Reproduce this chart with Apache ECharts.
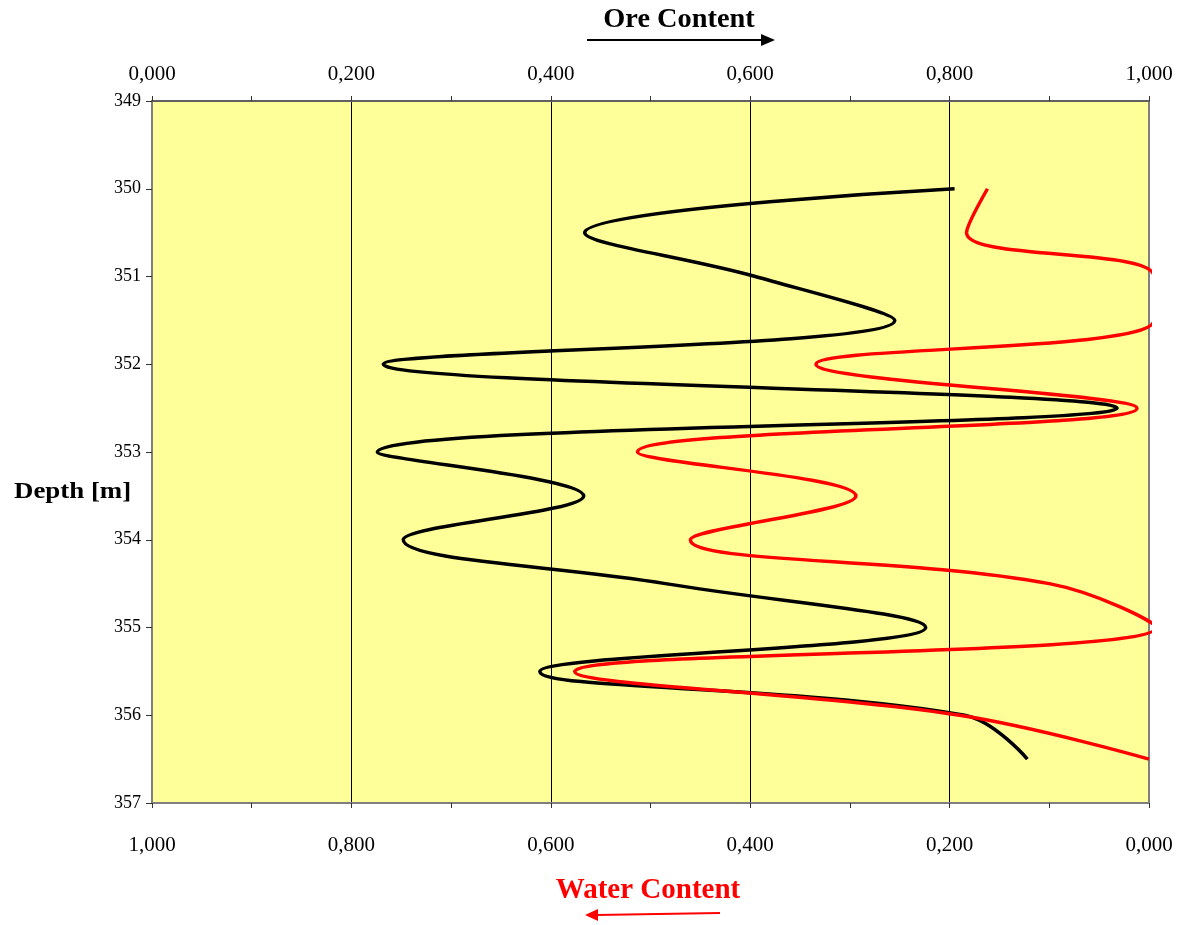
<!DOCTYPE html>
<html>
<head>
<meta charset="utf-8">
<script src="https://cdn.jsdelivr.net/npm/echarts@6/dist/echarts.min.js"></script>
<style>
html,body{margin:0;padding:0;background:#fff;}
#chart{width:1180px;height:925px;}
</style>
</head>
<body>
<div id="chart"></div>
<script>
// Depth of each sample [m]
const depths = [350, 350.5, 351, 351.5, 352, 352.5, 353, 353.5, 354, 354.5, 355, 355.5, 356, 356.5];
// Ore content (top axis, left to right)
const oreContent = [0.805, 0.434, 0.605, 0.745, 0.232, 0.968, 0.226, 0.433, 0.252, 0.515, 0.776, 0.389, 0.815, 0.878];
// Water content (bottom axis, right to left); curve runs off the right edge near 351 and 355
const waterContent = [0.162, 0.183, -0.005, -0.005, 0.334, 0.012, 0.513, 0.294, 0.460, 0.100, -0.007, 0.576, 0.190, 0.0];
// Tick labels
const oreTickLabels = ['0,000', '0,200', '0,400', '0,600', '0,800', '1,000'];
const waterTickLabels = ['0,000', '0,200', '0,400', '0,600', '0,800', '1,000'];
const depthTickLabels = ['349', '350', '351', '352', '353', '354', '355', '356', '357'];

const serif = "'Liberation Serif', 'Times New Roman', serif";

const oreData = depths.map((d, i) => [oreContent[i], d]);
const waterData = depths.map((d, i) => [waterContent[i], d]);

const chart = echarts.init(document.getElementById('chart'));
const axisGray = '#7f7f7f';
const option = {
  animation: false,
  backgroundColor: '#ffffff',
  grid: {
    left: 152, right: 31, top: 101, bottom: 122,
    show: true, backgroundColor: '#FFFF99', borderColor: axisGray, borderWidth: 2
  },
  xAxis: [
    {
      type: 'value', position: 'top', min: 0, max: 1, interval: 0.2,
      axisLine: { show: true, lineStyle: { color: '#606060', width: 2 } },
      axisTick: { show: true, inside: false, length: 5, lineStyle: { color: '#333' } },
      minorTick: { show: true, splitNumber: 2, length: 5, lineStyle: { color: '#333' } },
      splitLine: { show: true, lineStyle: { color: [axisGray, '#000', '#000', '#000', '#000', axisGray], width: 1 } },
      axisLabel: {
        margin: 16, fontFamily: serif, fontSize: 21, color: '#000',
        formatter: v => oreTickLabels[Math.round(v / 0.2)]
      }
    },
    {
      type: 'value', position: 'bottom', min: 0, max: 1, interval: 0.2, inverse: true,
      axisLine: { show: true, lineStyle: { color: axisGray, width: 2 } },
      axisTick: { show: true, inside: false, length: 5, lineStyle: { color: '#333' } },
      minorTick: { show: true, splitNumber: 2, length: 5, lineStyle: { color: '#333' } },
      splitLine: { show: false },
      axisLabel: {
        margin: 32, fontFamily: serif, fontSize: 21, color: '#000',
        formatter: v => waterTickLabels[Math.round(v / 0.2)]
      }
    }
  ],
  yAxis: {
    type: 'value', min: 349, max: 357, interval: 1, inverse: true,
    axisLine: { show: true, lineStyle: { color: axisGray, width: 2 } },
    axisTick: { show: true, inside: false, length: 6, lineStyle: { color: '#333' } },
    splitLine: { show: false },
    axisLabel: {
      margin: 11, fontFamily: serif, fontSize: 18, color: '#000',
      formatter: v => depthTickLabels[Math.round(v - 349)]
    }
  },
  series: [
    {
      name: 'Ore Content', type: 'line', xAxisIndex: 0, data: oreData,
      smooth: 0.4, showSymbol: false, symbol: 'none', clip: true,
      lineStyle: { color: '#000', width: 3.5 }, z: 3
    },
    {
      name: 'Water Content', type: 'line', xAxisIndex: 1, data: waterData,
      smooth: 0.4, showSymbol: false, symbol: 'none', clip: true,
      lineStyle: { color: '#ff0000', width: 3.5 }, z: 4
    }
  ],
  graphic: [
    {
      type: 'text', x: 679, y: 20, scaleX: 1.05, originX: 0,
      style: { text: 'Ore Content', fontFamily: serif, fontWeight: 'bold', fontSize: 27, fill: '#000', align: 'center', verticalAlign: 'middle' }
    },
    { type: 'line', shape: { x1: 587, y1: 40, x2: 764, y2: 40 }, style: { stroke: '#000', lineWidth: 2 } },
    { type: 'polygon', shape: { points: [[761, 34], [775, 40], [761, 46]] }, style: { fill: '#000' } },
    {
      type: 'text', x: 648, y: 891,
      style: { text: 'Water Content', fontFamily: serif, fontWeight: 'bold', fontSize: 29, fill: '#ff0000', align: 'center', verticalAlign: 'middle' }
    },
    { type: 'line', shape: { x1: 720, y1: 913, x2: 596, y2: 915 }, style: { stroke: '#ff0000', lineWidth: 2 } },
    { type: 'polygon', shape: { points: [[598, 909], [585, 915], [598, 921]] }, style: { fill: '#ff0000' } },
    {
      type: 'text', x: 14, y: 492, scaleX: 1.12,
      style: { text: 'Depth [m]', fontFamily: serif, fontWeight: 'bold', fontSize: 24, fill: '#000', align: 'left', verticalAlign: 'middle' }
    }
  ]
};
chart.setOption(option);
</script>
</body>
</html>
